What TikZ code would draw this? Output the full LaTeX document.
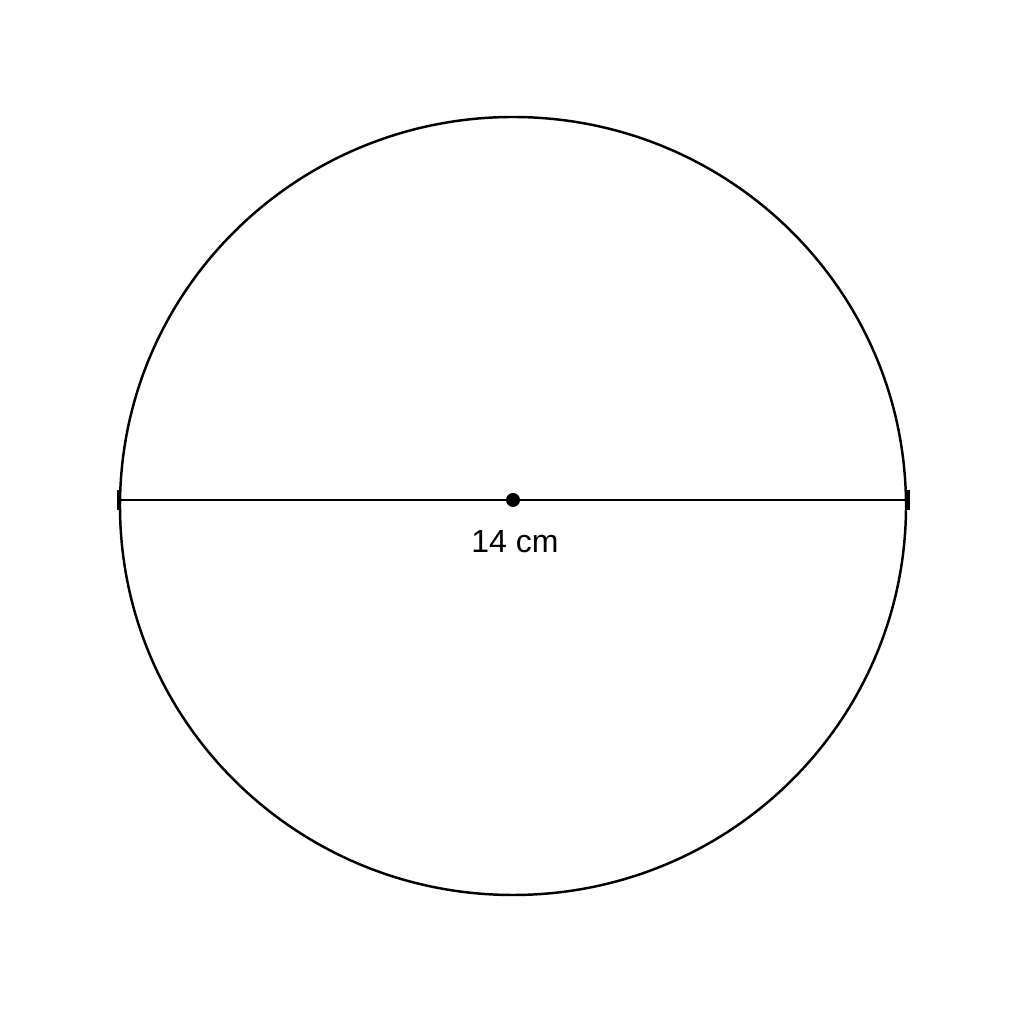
\documentclass[tikz,border=0pt]{standalone}
\usepackage{fontspec}
\setmainfont{Liberation Sans}
\usetikzlibrary{positioning}

\begin{document}
\begin{tikzpicture}[
x=0.01cm,y=0.01cm,
rim/.style={
  draw,
  line width=0.7pt
},
endtick/.style={
  draw,
  line width=1.2pt
},
centredot/.style={
  circle,
  fill,
  inner sep=0pt,
  minimum size=0.14cm
},
lengthlabel/.style={
  font=\fontsize{9.1}{11}\selectfont
}
]
\useasboundingbox (0,0) rectangle (1024,1024);
\draw[rim] (513,518) ellipse [x radius=393, y radius=389];
\coordinate (left) at (119,524);
\coordinate (right) at (908,524);
\node[centredot] (centre) at (513,524) {};
\draw[rim] (left) -- (right);
\draw[endtick] ([yshift=-0.1cm]left) -- ([yshift=0.1cm]left);
\draw[endtick] ([yshift=-0.1cm]right) -- ([yshift=0.1cm]right);
\node[lengthlabel] (len) at (515,482) {14 cm};
\end{tikzpicture}
\end{document}
